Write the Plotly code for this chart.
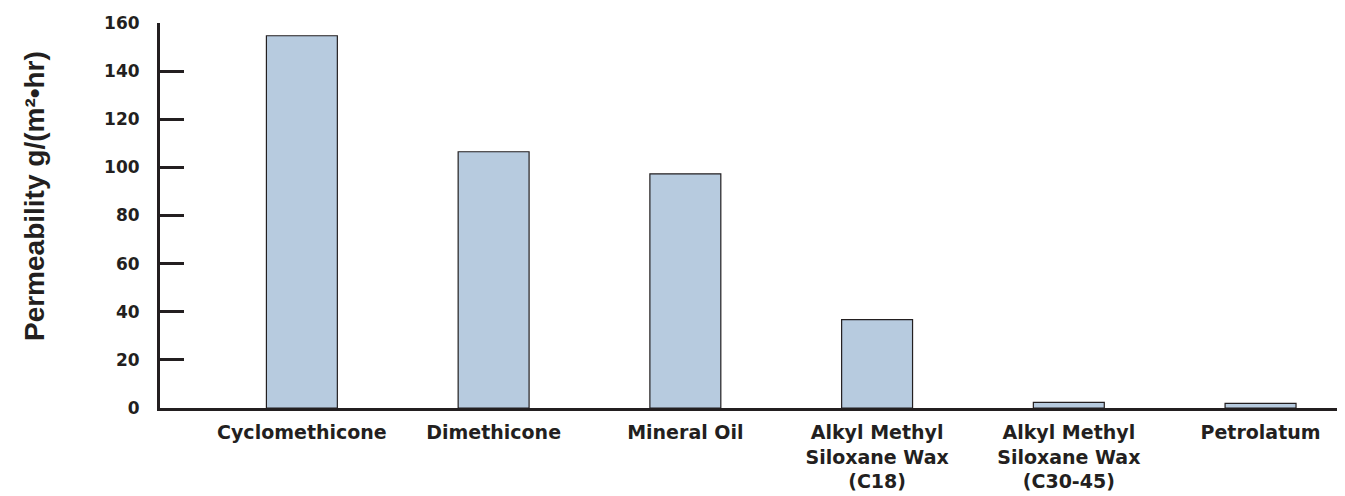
import plotly.graph_objects as go

categories = ["Cyclomethicone", "Dimethicone", "Mineral Oil",
              "Alkyl Methyl<br>Siloxane Wax<br>(C18)",
              "Alkyl Methyl<br>Siloxane Wax<br>(C30-45)", "Petrolatum"]
values = [154.7, 106.5, 97.3, 36.7, 2.3, 1.9]
y_ticks = [0, 20, 40, 60, 80, 100, 120, 140, 160]
y_title = "Permeability g/(m²•hr)"

FONT = "DejaVu Sans"
TITLE_FONT = "Liberation Sans"
DARK = "#231f20"

fig = go.Figure(go.Bar(
    x=list(range(len(categories))), y=values,
    marker=dict(color="#b7cbdf", line=dict(color=DARK, width=1.2)),
    width=0.37,
))

fig.update_layout(
    width=1337, height=488,
    margin=dict(l=152, r=2, t=15, b=88),
    plot_bgcolor="white", paper_bgcolor="white",
    showlegend=False,
    font=dict(family=FONT, color=DARK),
)
fig.update_xaxes(
    range=[-0.74, 5.43], automargin=False,
    tickmode="array", tickvals=list(range(len(categories))), ticktext=categories,
    tickfont=dict(family=FONT, size=19, color=DARK, weight="bold"),
    showline=True, linecolor=DARK, linewidth=3,
    ticks="", ticklabelstandoff=5,
    showgrid=False, zeroline=False,
)
fig.update_yaxes(
    range=[0, 160], automargin=False,
    tickmode="array", tickvals=y_ticks,
    tickfont=dict(family=FONT, size=17, color=DARK, weight="bold"),
    showline=True, linecolor=DARK, linewidth=3,
    ticks="inside", ticklen=24, tickwidth=3, tickcolor=DARK,
    ticklabelstandoff=14,
    showgrid=False, zeroline=False,
)
fig.add_annotation(
    text=y_title, textangle=-90,
    xref="paper", yref="paper", x=-0.1065, y=0.5506,
    xanchor="center", yanchor="middle", showarrow=False,
    font=dict(family=TITLE_FONT, size=28, color=DARK, weight="bold"),
)

fig.write_html("out.html")
